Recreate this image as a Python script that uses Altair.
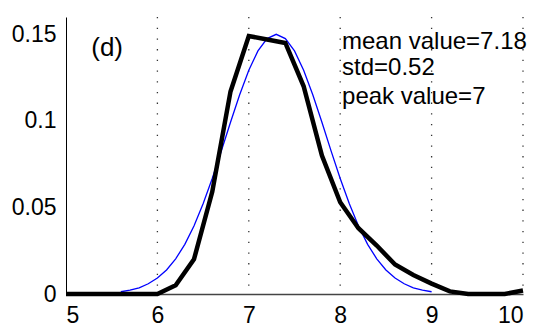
import altair as alt
import pandas as pd

# Black (empirical) curve
emp_x = [5.0, 5.2, 5.4, 5.6, 5.8, 6.0, 6.2, 6.4, 6.6, 6.8, 7.0, 7.2, 7.4, 7.6, 7.8,
         8.0, 8.2, 8.4, 8.6, 8.8, 9.0, 9.2, 9.4, 9.6, 9.8, 10.0]
emp_y = [0.0, 0.0, 0.0, 0.0, 0.0, 0.0, 0.005, 0.020, 0.059, 0.117, 0.149, 0.147, 0.145,
         0.120, 0.080, 0.053, 0.038, 0.028, 0.017, 0.011, 0.006, 0.0015, 0.0, 0.0, 0.0, 0.002]

# Blue (fitted) curve
fit_x = [5.6, 5.7, 5.8, 5.9, 6.0, 6.1, 6.2, 6.3, 6.4, 6.5, 6.6, 6.7, 6.8, 6.9, 7.0, 7.1,
         7.2, 7.3, 7.4, 7.5, 7.6, 7.7, 7.8, 7.9, 8.0, 8.1, 8.2, 8.3, 8.4, 8.5, 8.6, 8.7,
         8.8, 8.9, 9.0]
fit_y = [0.0013, 0.0022, 0.0036, 0.0059, 0.0092, 0.0139, 0.0203, 0.0287, 0.0393, 0.0521,
         0.0667, 0.0827, 0.0992, 0.1151, 0.1293, 0.1404, 0.1475, 0.150, 0.1475, 0.1404,
         0.1293, 0.1151, 0.0992, 0.0827, 0.0667, 0.0521, 0.0393, 0.0287, 0.0203, 0.0139,
         0.0092, 0.0059, 0.0036, 0.0022, 0.0013]

grid_x = [6, 7, 8, 9, 10]
x_ticks = [5, 6, 7, 8, 9, 10]
y_ticks = [0, 0.05, 0.1, 0.15]

label_texts = ["mean value=7.18", "std=0.52", "peak value=7"]
label_x = [8.02, 8.02, 8.02]
label_y = [0.1458, 0.1304, 0.1140]

panel_text = ["(d)"]
panel_x = [5.45]
panel_y = [0.142]

FONT = "Liberation Sans"

emp = pd.DataFrame({"x": emp_x, "y": emp_y})
fit = pd.DataFrame({"x": fit_x, "y": fit_y})
grid = pd.DataFrame({"x": grid_x})
labels = pd.DataFrame({"t": label_texts, "x": label_x, "y": label_y})
panel = pd.DataFrame({"t": panel_text, "x": panel_x, "y": panel_y})

xs = alt.Scale(domain=[5, 10], nice=False, zero=False)
ys = alt.Scale(domain=[0, 0.16], nice=False)

xaxis = alt.Axis(values=x_ticks, format="d", grid=False, ticks=False, labelFontSize=23,
                 labelFont=FONT, labelColor="black", domainColor="#444444", domainWidth=1.5,
                 labelPadding=10, title=None)
yaxis = alt.Axis(values=y_ticks, format=".2~f", grid=False, ticks=False, labelFontSize=23,
                 labelFont=FONT, labelColor="black", domainColor="black", domainWidth=1,
                 labelPadding=10, title=None)

gridlines = alt.Chart(grid).mark_rule(color="#333333", strokeDash=[1.3, 9.4], strokeWidth=1.3).encode(
    x=alt.X("x:Q", scale=xs, axis=xaxis),
    y=alt.value(0), y2=alt.value(277),
)

fit_line = alt.Chart(fit).mark_line(color="#0000ff", strokeWidth=1.3).encode(
    x=alt.X("x:Q", scale=xs, axis=xaxis),
    y=alt.Y("y:Q", scale=ys, axis=yaxis),
)

emp_line = alt.Chart(emp).mark_line(color="black", strokeWidth=4.5, strokeJoin="miter").encode(
    x=alt.X("x:Q", scale=xs),
    y=alt.Y("y:Q", scale=ys),
)

txt = alt.Chart(labels).mark_text(align="left", baseline="middle", fontSize=24, font=FONT,
                                  color="black").encode(
    x=alt.X("x:Q", scale=xs), y=alt.Y("y:Q", scale=ys), text="t:N")

ptxt = alt.Chart(panel).mark_text(align="center", baseline="middle", fontSize=26, font=FONT,
                                  color="black").encode(
    x=alt.X("x:Q", scale=xs), y=alt.Y("y:Q", scale=ys), text="t:N")

chart = alt.layer(gridlines, fit_line, emp_line, txt, ptxt).properties(
    width=457, height=277,
    autosize=alt.AutoSizeParams(type="none"),
    padding={"left": 66, "top": 17, "right": 13, "bottom": 32},
    background="white",
).configure_view(stroke=None)

chart.save("out.html", embed_options={"renderer": "svg", "actions": False})
